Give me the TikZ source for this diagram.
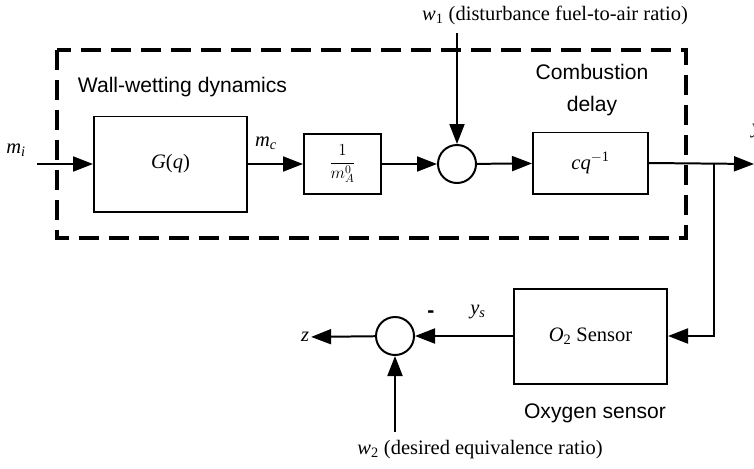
\documentclass[tikz,border=0pt]{standalone}
\usepackage{fontspec}
\setmainfont{Liberation Serif}
\setsansfont{Liberation Sans}
\usetikzlibrary{arrows.meta}
\begin{document}
\begin{tikzpicture}[x=0.03cm, y=-0.03cm, line width=1.7pt,
  every node/.style={font=\fontsize{17.5}{21}\selectfont},
  blk/.style={draw, rectangle, inner sep=0pt},
  sumpt/.style={draw, circle, minimum size=1.14cm, inner sep=0pt},
  lbl/.style={font=\sffamily\fontsize{18}{27}\selectfont},
  sig/.style={-{Triangle[length=0.6cm, width=0.45cm]}}]
\useasboundingbox (0,0) rectangle (754,468);
\draw[line width=2.6pt, dash pattern=on 0.6cm off 0.3cm] (57,50) rectangle (686,238);
\node[lbl, anchor=west] (wallw) at (73,87) {Wall-wetting dynamics};
\node[lbl, align=center] (combd) at (592,90) {Combustion\\delay};
\node[blk, minimum width=4.59cm, minimum height=2.85cm] (gq) at (170.5,164) {\textit{G}(\textit{q})};
\node[blk, minimum width=2.31cm, minimum height=1.8cm, font=\fontsize{14}{17}\selectfont] (inv) at (342.5,164) {$\displaystyle\frac{1}{m_A^0}$};
\node[sumpt] (sum1) at (457,164) {};
\node[blk, minimum width=3.45cm, minimum height=1.83cm] (cq) at (590.5,163) {\textit{cq}\textsuperscript{$-$1}};
\node[blk, minimum width=4.59cm, minimum height=2.85cm] (sens) at (590.5,336) {\textit{O}\textsubscript{2} Sensor};
\node[sumpt] (sum2) at (395,336) {};
\node (mi) at (16,150) {\textit{m}\textsubscript{\textit{i}}};
\node (mc) at (266,143) {\textit{m}\textsubscript{\textit{c}}};
\node (w1) at (555,15) {\textit{w}\textsubscript{1} (disturbance fuel-to-air ratio)};
\node[anchor=west] (yo) at (747,131) {\textit{y}};
\node (ys) at (478,312) {\textit{y}\textsubscript{\textit{s}}};
\node[lbl] (minus) at (431,314) {\textbf{-}};
\node[inner sep=1pt] (z) at (305,337) {\textit{z}};
\node[lbl] (oxys) at (595,413) {Oxygen sensor};
\node (w2) at (480,450) {\textit{w}\textsubscript{2} (desired equivalence ratio)};
\coordinate (in) at (37,164);
\coordinate (w1top) at (457,33);
\coordinate (out) at (754,164);
\coordinate (tap) at (714,164);
\coordinate (w2bot) at (395,432);
\draw[sig] (in) -- (gq);
\draw[sig] (gq) -- (inv);
\draw[sig] (inv) -- (sum1);
\draw[sig] (w1top) -- (sum1);
\draw[sig] (sum1) -- (cq);
\draw[sig] (cq.east) -- (out);
\draw[sig] (tap) |- (sens.east);
\draw[sig] (sens) -- (sum2);
\draw[sig] (sum2) -- (z);
\draw[sig] (w2bot) -- (sum2);
\end{tikzpicture}
\end{document}
